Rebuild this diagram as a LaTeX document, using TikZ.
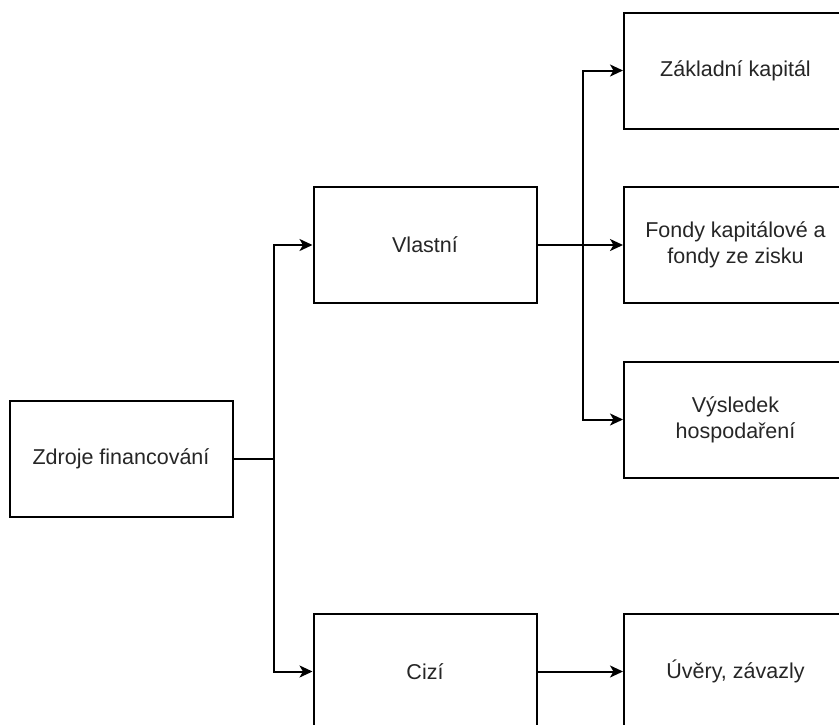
\documentclass[tikz,border=0pt]{standalone}
\usepackage{fontspec}
\setmainfont{Liberation Sans}
\usetikzlibrary{arrows.meta}
\begin{document}
\begin{tikzpicture}[x=1pt,y=-1pt,
  box/.style={draw, line width=2pt, minimum width=223pt, minimum height=116pt,
    align=center, inner sep=0pt, text=black!85, font=\fontsize{21.5}{26}\selectfont},
  conn/.style={line width=2pt, -{Stealth[length=13pt,width=12pt,inset=3.5pt]}}]
\useasboundingbox (0,0) rectangle (839,724);
\fill[white] (0,0) rectangle (839,724);
\clip (0,0) rectangle (839,724);
\node[box] (z) at (121,458.5) {Zdroje financování};
\node[box] (v) at (425,245) {Vlastní};
\node[box] (c) at (425,671.5) {Cizí};
\node[box] (zk) at (735.5,70.5) {Základní kapitál};
\node[box] (f) at (735.5,245) {Fondy kapitálové a\\fondy ze zisku};
\node[box] (vh) at (735.5,419.5) {Výsledek\\hospodaření};
\node[box] (u) at (735.5,671.5) {Úvěry, závazly};
\draw[conn] (z.east) -- ++(40,0) |- (v.west);
\draw[conn] (z.east) -- ++(40,0) |- (c.west);
\draw[conn] (v.east) -- (f.west);
\draw[conn] (v.east) -- ++(45,0) |- (zk.west);
\draw[conn] (v.east) -- ++(45,0) |- (vh.west);
\draw[conn] (c.east) -- (u.west);
\end{tikzpicture}
\end{document}
